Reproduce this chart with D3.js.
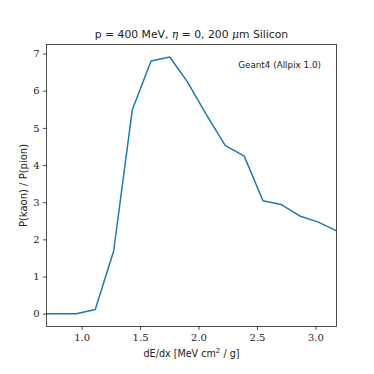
<!DOCTYPE html>
<html>
<head>
<meta charset="utf-8">
<script src="https://cdn.jsdelivr.net/npm/d3@7"></script>
<style>
  body { margin: 0; background: #fff; }
  .tick text { font-family: "DejaVu Serif", serif; font-size: 10px; fill: #222; }
  .lbl { font-family: "DejaVu Sans", sans-serif; fill: #222; }
</style>
</head>
<body>
<svg width="374" height="374"></svg>
<script>
// dE/dx values (MeV cm^2 / g) and kaon / pion probability ratio
var dedx  = [0.643, 0.80, 0.957, 1.117, 1.274, 1.434, 1.594, 1.754, 1.905, 2.067, 2.228, 2.391, 2.551, 2.705, 2.865, 3.02, 3.18];
var ratio = [0.0,   0.0,  0.0,   0.11,  1.68,  5.49,  6.80,  6.91,  6.24,  5.36,  4.53,  4.24,  3.04,  2.94,  2.63,  2.47, 2.23];

var xTicks = [1.0, 1.5, 2.0, 2.5, 3.0],
    yTicks = [0, 1, 2, 3, 4, 5, 6, 7];

var svg = d3.select("svg"),
    mLeft = 46.5, mRight = 336.5, mTop = 44.5, mBottom = 326.5;

var x = d3.scaleLinear()
    .domain([0.7, 3.18])
    .range([mLeft, mRight]);

var y = d3.scaleLinear()
    .domain([-0.345, 7.245])
    .range([mBottom, mTop]);

svg.append("clipPath").attr("id", "clip")
  .append("rect")
    .attr("x", mLeft).attr("y", mTop)
    .attr("width", mRight - mLeft).attr("height", mBottom - mTop);

var line = d3.line()
    .x(function(d, i) { return x(dedx[i]); })
    .y(function(d) { return y(d); });

svg.append("path")
    .datum(ratio)
    .attr("clip-path", "url(#clip)")
    .attr("fill", "none")
    .attr("stroke", "#1f77b4")
    .attr("stroke-width", 1.5)
    .attr("stroke-linejoin", "round")
    .attr("d", line);

// axes (matplotlib style: outward ticks, frame on all sides)
var xAxis = svg.append("g")
    .attr("transform", "translate(0," + mBottom + ")")
    .call(d3.axisBottom(x).tickValues(xTicks).tickFormat(d3.format(".1f")).tickSizeOuter(0).tickSize(3.5).tickPadding(3.5));
var yAxis = svg.append("g")
    .attr("transform", "translate(" + mLeft + ",0)")
    .call(d3.axisLeft(y).tickValues(yTicks).tickFormat(d3.format("d")).tickSizeOuter(0).tickSize(3.5).tickPadding(3.5));
[xAxis, yAxis].forEach(function(a) {
  a.select(".domain").remove();
  a.selectAll(".tick line").attr("stroke", "#222").attr("stroke-width", 0.8);
});

svg.append("rect")
    .attr("x", mLeft).attr("y", mTop)
    .attr("width", mRight - mLeft).attr("height", mBottom - mTop)
    .attr("fill", "none")
    .attr("stroke", "#222")
    .attr("stroke-width", 0.8);

// title
var title = svg.append("text")
    .attr("class", "lbl")
    .attr("x", (mLeft + mRight) / 2)
    .attr("y", 38)
    .attr("text-anchor", "middle")
    .attr("font-size", 10.8);
title.append("tspan").text("p = 400 MeV, ");
title.append("tspan").attr("font-style", "italic").attr("font-family", "DejaVu Serif").text("η");
title.append("tspan").text(" = 0, 200 ");
title.append("tspan").attr("font-style", "italic").attr("font-family", "DejaVu Serif").text("μ");
title.append("tspan").text("m Silicon");

svg.append("text")
    .attr("class", "lbl")
    .attr("x", 321)
    .attr("y", 68)
    .attr("text-anchor", "end")
    .attr("font-size", 8.8)
    .text("Geant4 (Allpix 1.0)");

// axis labels
var xl = svg.append("text")
    .attr("class", "lbl")
    .attr("x", (mLeft + mRight) / 2)
    .attr("y", 357)
    .attr("text-anchor", "middle")
    .attr("font-size", 9.6);
xl.append("tspan").text("dE/dx [MeV cm");
xl.append("tspan").attr("font-size", 7).attr("dy", -4).text("2");
xl.append("tspan").attr("dy", 4).text(" / g]");

svg.append("text")
    .attr("class", "lbl")
    .attr("transform", "translate(27," + (mTop + mBottom) / 2 + ") rotate(-90)")
    .attr("text-anchor", "middle")
    .attr("font-size", 10)
    .text("P(kaon) / P(pion)");
</script>
</body>
</html>
